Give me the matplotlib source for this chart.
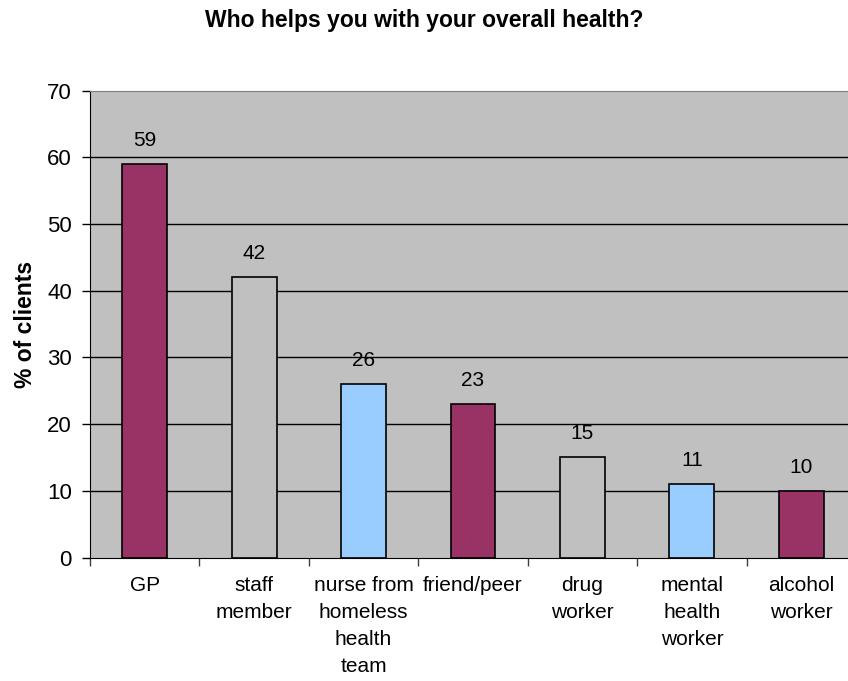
import matplotlib.pyplot as plt
import numpy as np

# Survey data
categories = ['GP', 'staff\nmember', 'nurse from\nhomeless\nhealth\nteam', 'friend/peer',
              'drug\nworker', 'mental\nhealth\nworker', 'alcohol\nworker']
values = [59, 42, 26, 23, 15, 11, 10]
bar_colors = ['#993366', '#C0C0C0', '#99CCFF', '#993366', '#C0C0C0', '#99CCFF', '#993366']
y_ticks = [0, 10, 20, 30, 40, 50, 60, 70]

plt.rcParams['font.family'] = ['Liberation Sans', 'DejaVu Sans']

fig = plt.figure(figsize=(8.48, 6.81), dpi=100)
# plot area runs slightly past the right edge, like the original
ax = fig.add_axes([90 / 848, (681 - 557.5) / 681, 766 / 848, 466.8 / 681])
ax.set_facecolor('#C0C0C0')

x = np.arange(len(values))
ax.bar(x, values, width=0.41, color=bar_colors, edgecolor='black', linewidth=1.2, zorder=3)

for xi, v in zip(x, values):
    ax.annotate(str(v), (xi, v), xytext=(0, 17), textcoords='offset points',
                ha='center', va='center', fontsize=15)

# horizontal gridlines
for t in y_ticks[1:-1]:
    ax.axhline(t, color='black', linewidth=1.0, zorder=1)

ax.set_xlim(-0.5, len(values) - 0.5)
ax.set_ylim(0, 70)
ax.set_yticks(y_ticks)
ax.tick_params(axis='y', labelsize=16, length=6, width=1, pad=7, direction='out')

# category boundaries as ticks, labels in the middle
ax.set_xticks(np.arange(len(values) + 1) - 0.5)
ax.set_xticklabels([])
ax.set_xticks(x, minor=True)
ax.set_xticklabels(categories, minor=True, fontsize=15, linespacing=1.55, va='top')
ax.tick_params(axis='x', which='major', length=6, width=1, color='#404040')
ax.tick_params(axis='x', which='minor', length=0, pad=13)

ax.spines['top'].set_color('#808080')
ax.spines['right'].set_visible(False)
ax.spines['left'].set_color('black')
ax.spines['bottom'].set_color('black')

ax.set_ylabel('% of clients', fontsize=16.5, fontweight='bold', labelpad=7)
fig.text(0.5, 1 - 20 / 681, 'Who helps you with your overall health?', ha='center', va='center',
         fontsize=16.5, fontweight='bold')

plt.savefig('out.png', dpi=100)
plt.close()
